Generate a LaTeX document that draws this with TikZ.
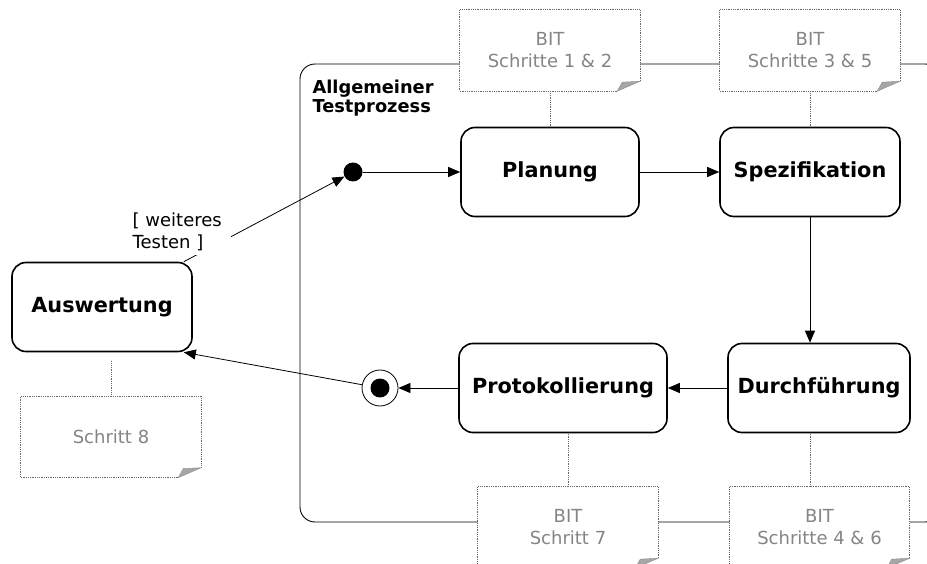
\documentclass[tikz,border=0pt]{standalone}
\usepackage{fontspec}
\setmainfont{DejaVu Sans}
\usetikzlibrary{arrows.meta}

\tikzset{
  state/.style={draw, line width=1.6pt, rounded corners=14pt, fill=white,
    minimum height=89pt, font=\fontsize{20.8}{24}\selectfont\bfseries},
  pseudo/.style={circle, fill=black, minimum size=19pt, inner sep=0pt},
  finalstate/.style={circle, draw, line width=0.8pt, minimum size=36pt, inner sep=0pt,
    path picture={\fill (path picture bounding box.center) circle (9.5pt);}},
  note/.style={fill=white, text=black!48, minimum width=180pt, minimum height=81pt,
    align=center, font=\fontsize{18}{22}\selectfont},
  noteline/.style={black!60, densely dotted, line width=0.8pt},
  fold/.style={fill=black!35, draw=black!45, line width=0.4pt},
  trans/.style={-{Triangle[length=12pt,width=10pt]}, line width=0.8pt},
  guard/.style={fill=white, align=left, inner xsep=9pt, inner ysep=4pt,
    font=\fontsize{18}{22}\selectfont},
}

\begin{document}
\begin{tikzpicture}[x=1pt, y=-1pt]
  \useasboundingbox (0,0) rectangle (927,564);
  %\draw[lightgray, step=50] (0,0) grid (927,564);

  % frame of the general test process
  \draw[line width=0.9pt, rounded corners=15pt] (300,64) rectangle (940,522);
  \node[anchor=north west, align=left, font=\fontsize{17.8}{19}\selectfont\bfseries]
    (frametitle) at (309,76) {Allgemeiner\\Testprozess};

  % notes
  \node[note] (bit12) at (550,50.5) {BIT\\Schritte 1 \& 2};
  \node[note] (bit35) at (810,50.5) {BIT\\Schritte 3 \& 5};
  \node[note] (bit7) at (568,527.5) {BIT\\Schritt 7};
  \node[note] (bit46) at (819.5,527.5) {BIT\\Schritte 4 \& 6};
  \node[note] (step8) at (111,437) {Schritt 8};
  \foreach \n in {bit12,bit35,bit7,bit46,step8} {
    \draw[noteline] ([xshift=-23pt]\n.south east) -- (\n.south west) -- (\n.north west)
      -- (\n.north east) -- ([yshift=10pt]\n.south east);
    \filldraw[fold] ([xshift=-23pt]\n.south east) -- ([yshift=10pt]\n.south east)
      -- ([xshift=-18pt,yshift=9pt]\n.south east) -- cycle;
  }

  % states
  \node[state, minimum width=178pt] (plan) at (550,172) {Planung};
  \node[state, minimum width=180pt] (spez) at (810,172) {Spezifikation};
  \node[state, minimum width=182pt] (durch) at (819,388) {Durchführung};
  \node[state, minimum width=208pt] (proto) at (563,388) {Protokollierung};
  \node[state, minimum width=180pt] (ausw) at (102,307) {Auswertung};
  \node[pseudo] (start) at (353,172) {};
  \node[finalstate] (stop) at (380,388) {};

  % notes attached to the states
  \draw[noteline] (bit12.south) -- (plan.north);
  \draw[noteline] (bit35.south) -- (spez.north);
  \draw[noteline] (bit7.north) -- (bit7.north |- proto.south);
  \draw[noteline] (spez.south |- bit46.north) -- (spez.south |- durch.south);
  \draw[noteline] (step8.north) -- ([yshift=-8pt]step8.north |- ausw.south);

  % transitions
  \draw[trans] (start) -- (plan);
  \draw[trans] (plan) -- (spez);
  \draw[trans] (spez.south) -- (spez.south |- durch.north);
  \draw[trans] (durch) -- (proto);
  \draw[trans] (proto) -- (stop);
  \draw[trans] (stop) -- ([xshift=-9pt]ausw.south east);
  \draw[trans] ([xshift=-9pt]ausw.north east) -- (start);
  \node[guard, anchor=south east] (again) at (231,255) {[ weiteres\\Testen ]};
\end{tikzpicture}
\end{document}
